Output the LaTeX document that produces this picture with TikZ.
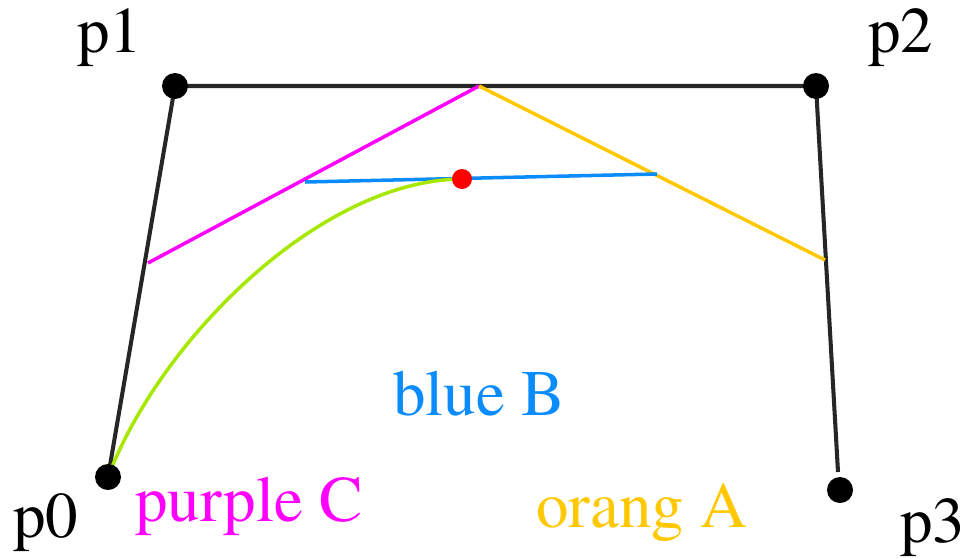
\documentclass[tikz,border=0pt]{standalone}
\usepackage{fontspec}
\setmainfont{TeX Gyre Termes}
\usepackage{xcolor}
\definecolor{curvegreen}{RGB}{166,232,0}
\definecolor{lineblue}{RGB}{10,140,255}
\definecolor{lineorange}{RGB}{255,200,0}
\definecolor{linepurple}{RGB}{255,0,255}

\begin{document}
\begin{tikzpicture}[x=0.02cm,y=-0.02cm,
  hull/.style={line width=2.3pt,black!85},
  split/.style={line width=2pt},
  lbl/.style={anchor=base west,inner sep=0pt,font=\rmfamily\fontsize{37}{44}\selectfont}]
\useasboundingbox (0,0) rectangle (973,558);

% control points
\coordinate (p0) at (108,477);
\coordinate (p1) at (175,86);
\coordinate (p2) at (816,86);
\coordinate (p3) at (840,490);
\coordinate (p3top) at (838,472);

% points on the hull
\coordinate (c0) at (148,263);
\coordinate (c1) at (479,86);
\coordinate (a1) at (825,260);
\coordinate (b0) at (305,182);
\coordinate (b1) at (657,174);
\coordinate (mid) at (462,179);

% control polygon
\draw[hull] (p0) -- (p1) -- (p2) -- (p3top);

% first and second level
\draw[split,linepurple] (c0) -- (c1);
\draw[split,lineorange] (c1) -- (a1);
\draw[split,lineblue] (b0) -- (b1);

% half of the curve
\draw[split,curvegreen] (p0) .. controls (160,340) and (320,180) .. (mid);

% dots
\fill (p0) circle (13);
\fill (p1) circle (13);
\fill (p2) circle (13);
\fill (p3) circle (13);
\fill[red] (mid) circle (10);

% labels
\node[lbl] (l0) at (13,537) {p0};
\node[lbl] (l1) at (77,52) {p1};
\node[lbl] (l2) at (868,52) {p2};
\node[lbl] (l3) at (900,542) {p3};
\node[lbl,text=linepurple] (lc) at (135,521) {purple C};
\node[lbl,text=lineblue] (lb) at (393,415) {blue B};
\node[lbl,text=lineorange] (la) at (536,527) {orang A};

\end{tikzpicture}
\end{document}
